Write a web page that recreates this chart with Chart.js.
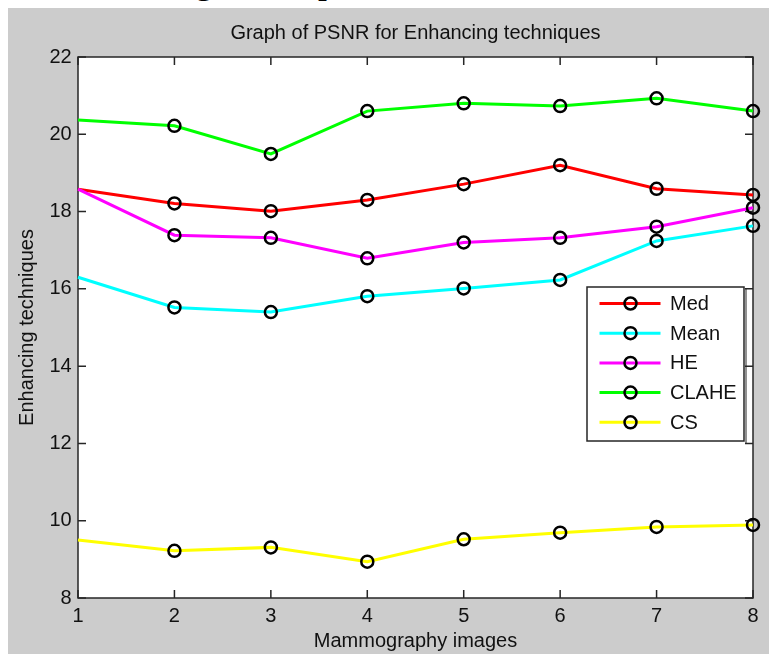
<!DOCTYPE html>
<html>
<head>
<meta charset="utf-8">
<script src="https://cdn.jsdelivr.net/npm/chart.js@4.4.1/dist/chart.umd.min.js"></script>
<style>
  html, body { margin: 0; padding: 0; width: 769px; height: 654px; overflow: hidden; background: #fff; }
  #paper { position: absolute; left: 0; top: 0; width: 769px; height: 8px; overflow: hidden; }
  #paper span { position: absolute; top: -37px; font: 36px "Liberation Serif", "Times New Roman", serif; line-height: 36px; color: #000; }
  #wrap { position: absolute; left: 8px; top: 8px; width: 761px; height: 662px; background: #cccccc; }
</style>
</head>
<body>
<div id="paper"><span style="left:195px">g</span><span style="left:318px">p</span></div>
<div id="wrap"><canvas id="psnr"></canvas></div>
<script>
// PSNR per mammography image
const imageIds = [1, 2, 3, 4, 5, 6, 7, 8];
const medPsnr = [18.58, 18.21, 18.01, 18.30, 18.71, 19.20, 18.59, 18.43];
const meanPsnr = [16.30, 15.52, 15.40, 15.81, 16.01, 16.23, 17.24, 17.63];
const hePsnr = [18.58, 17.39, 17.32, 16.79, 17.20, 17.32, 17.61, 18.10];
const clahePsnr = [20.37, 20.22, 19.49, 20.60, 20.80, 20.73, 20.93, 20.60];
const csPsnr = [9.50, 9.22, 9.31, 8.94, 9.52, 9.69, 9.84, 9.89];
const seriesNames = ["Med", "Mean", "HE", "CLAHE", "CS"];
const seriesColors = ["#ff0000", "#00ffff", "#ff00ff", "#00ff00", "#ffff00"];
const yTickValues = [8, 10, 12, 14, 16, 18, 20, 22];

const FONT = "'Liberation Sans', Arial, Helvetica, sans-serif";
const INK = "#111111";

function toPoints(vals) {
  return vals.map((v, i) => ({x: imageIds[i], y: v}));
}

const allSeries = [medPsnr, meanPsnr, hePsnr, clahePsnr, csPsnr];
const datasets = allSeries.map((vals, i) => ({
  label: seriesNames[i],
  data: toPoints(vals),
  borderColor: seriesColors[i],
  borderWidth: 3,
  pointStyle: "circle",
  // no marker drawn at the first image in the original
  pointRadius: vals.map((v, k) => k === 0 ? 0 : 6),
  pointBorderColor: "#000",
  pointBorderWidth: 2.5,
  pointBackgroundColor: "rgba(0,0,0,0)",
  tension: 0,
  clip: false,
  order: allSeries.length - i
}));

// white axes area, box on all sides and inward tick marks
const axesBox = {
  id: "axesBox",
  beforeDraw(chart) {
    const {ctx, chartArea: a} = chart;
    ctx.save();
    ctx.fillStyle = "#fff";
    ctx.fillRect(a.left, a.top, a.right - a.left, a.bottom - a.top);
    ctx.restore();
  },
  beforeDatasetsDraw(chart) {
    const {ctx, chartArea: a, scales} = chart;
    const tl = 8;
    ctx.save();
    ctx.strokeStyle = "#262626";
    ctx.lineWidth = 1.5;
    ctx.beginPath();
    scales.x.ticks.forEach(t => {
      const px = scales.x.getPixelForValue(t.value);
      ctx.moveTo(px, a.bottom); ctx.lineTo(px, a.bottom - tl);
      ctx.moveTo(px, a.top); ctx.lineTo(px, a.top + tl);
    });
    scales.y.ticks.forEach(t => {
      const py = scales.y.getPixelForValue(t.value);
      ctx.moveTo(a.left, py); ctx.lineTo(a.left + tl, py);
      ctx.moveTo(a.right, py); ctx.lineTo(a.right - tl, py);
    });
    ctx.stroke();
    ctx.strokeRect(a.left, a.top, a.right - a.left, a.bottom - a.top);
    ctx.restore();
  }
};

// matlab style legend box in the lower right of the axes
const boxLegend = {
  id: "boxLegend",
  afterDraw(chart) {
    const {ctx, chartArea: a} = chart;
    const w = 157, h = 154;
    const x0 = a.right - 9 - w, y0 = a.top + 230;
    ctx.save();
    ctx.fillStyle = "#fff";
    ctx.fillRect(x0, y0, w, h);
    ctx.strokeStyle = "#262626";
    ctx.lineWidth = 1.5;
    ctx.strokeRect(x0, y0, w, h);
    ctx.lineWidth = 1;
    ctx.beginPath();
    ctx.moveTo(x0 + w + 2, y0 + 2); ctx.lineTo(x0 + w + 2, y0 + h + 2);
    ctx.stroke();
    ctx.font = "20px " + FONT;
    ctx.textBaseline = "middle";
    ctx.textAlign = "left";
    chart.data.datasets.forEach((ds, i) => {
      const cy = y0 + 16.5 + i * 29.7;
      ctx.strokeStyle = ds.borderColor;
      ctx.lineWidth = 3;
      ctx.beginPath();
      ctx.moveTo(x0 + 12.5, cy); ctx.lineTo(x0 + 73.5, cy);
      ctx.stroke();
      ctx.strokeStyle = "#000";
      ctx.lineWidth = 2.5;
      ctx.beginPath();
      ctx.arc(x0 + 43.5, cy, 6, 0, Math.PI * 2);
      ctx.stroke();
      ctx.fillStyle = INK;
      ctx.fillText(ds.label, x0 + 83, cy + 1);
    });
    ctx.restore();
  }
};

new Chart(document.getElementById("psnr"), {
  type: "line",
  data: {datasets: datasets},
  options: {
    responsive: true,
    maintainAspectRatio: false,
    animation: false,
    layout: {padding: {left: 0, right: 16, top: 0, bottom: 0}},
    plugins: {
      legend: {display: false},
      tooltip: {enabled: false},
      title: {
        display: true,
        fullSize: false,
        text: "Graph of PSNR for Enhancing techniques",
        color: INK,
        font: {family: FONT, size: 20, weight: "normal"},
        padding: {top: 13.8, bottom: 11.2}
      }
    },
    scales: {
      x: {
        type: "linear",
        min: 1,
        max: 8,
        afterFit(s) { s.height = 72; },
        afterBuildTicks(s) { s.ticks = imageIds.map(v => ({value: v})); },
        grid: {display: false, drawTicks: false},
        border: {display: false},
        ticks: {
          color: INK,
          font: {family: FONT, size: 20},
          padding: 6,
          autoSkip: false,
          maxRotation: 0
        },
        title: {
          display: true,
          text: "Mammography images",
          color: INK,
          font: {family: FONT, size: 20},
          padding: {top: 0, bottom: 16.5}
        }
      },
      y: {
        min: 8,
        max: 22,
        afterFit(s) { s.width = 70; },
        afterBuildTicks(s) { s.ticks = yTickValues.map(v => ({value: v})); },
        grid: {display: false, drawTicks: false},
        border: {display: false},
        ticks: {
          color: INK,
          font: {family: FONT, size: 20},
          padding: 6.3
        },
        title: {
          display: true,
          text: "Enhancing techniques",
          color: INK,
          font: {family: FONT, size: 20},
          padding: {top: 7, bottom: 0}
        }
      }
    }
  },
  plugins: [axesBox, boxLegend]
});
</script>
</body>
</html>
